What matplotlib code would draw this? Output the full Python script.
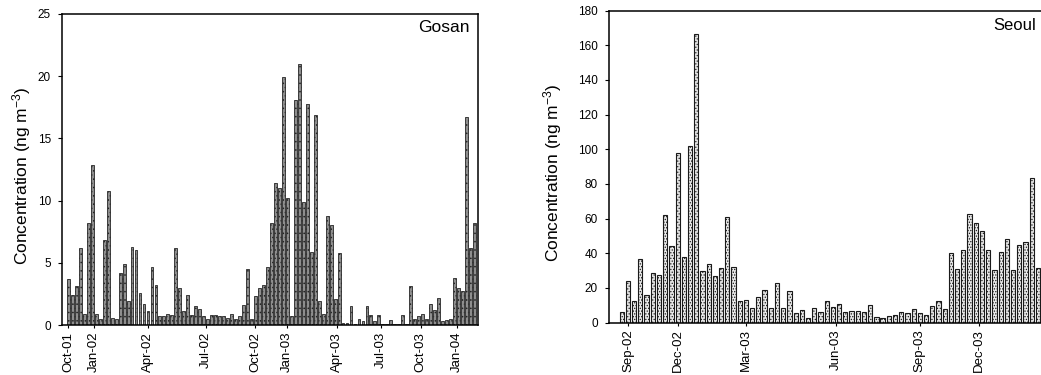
import numpy as np
import matplotlib
matplotlib.use("Agg")
import matplotlib.pyplot as plt

plt.rcParams['font.family'] = ['Liberation Sans', 'DejaVu Sans']
plt.rcParams['mathtext.default'] = 'regular'
plt.rcParams['hatch.linewidth'] = 0.6

# Gosan samples (ng m-3), in sampling order
gosan = [3.7, 2.4, 3.1, 6.2, 0.9, 8.2, 12.9, 0.9, 0.5, 6.8, 10.8, 0.6, 0.5,
         4.2, 4.9, 1.9, 6.3, 6.0, 2.6, 1.7, 1.1, 4.7, 3.2, 0.7, 0.7, 0.9,
         0.8, 6.2, 3.0, 1.1, 2.4, 0.8, 1.5, 1.3, 0.7, 0.5, 0.8, 0.8, 0.7,
         0.7, 0.6, 0.9, 0.5, 0.7, 1.6, 4.5, 0.5, 2.3, 3.0, 3.2, 4.7, 8.2,
         11.4, 11.0, 19.9, 10.2, 0.7, 18.1, 21.0, 9.9, 17.8, 5.9, 16.9, 1.9,
         0.9, 8.8, 8.0, 2.1, 5.8, 0.2, 0.2, 1.5, 0.1, 0.5, 0.3, 1.5, 0.8,
         0.3, 0.8, 0.1, 0.1, 0.4, 0.1, 0.1, 0.8, 0.1, 3.1, 0.5, 0.7, 0.9,
         0.5, 1.7, 1.2, 2.2, 0.3, 0.4, 0.5, 3.8, 3.0, 2.7, 16.7, 6.2, 8.2]
gosan_ticks = [0, 6.5, 20, 34.5, 47, 55, 67.5, 78.5, 88.5, 97.5]
gosan_labels = ['Oct-01', 'Jan-02', 'Apr-02', 'Jul-02', 'Oct-02', 'Jan-03',
                'Apr-03', 'Jul-03', 'Oct-03', 'Jan-04']

# Seoul samples (ng m-3)
seoul = [6, 23.7, 12.2, 36.7, 16.0, 28.6, 27.4, 62.0, 44, 98, 38, 102, 166.5,
         30, 34, 27, 31.5, 61, 32, 12.2, 13.1, 8.3, 15, 18.9, 8.3, 22.8, 8.3,
         18.3, 5.4, 7.3, 2.5, 8.3, 5.8, 12.5, 8.9, 10.8, 6.0, 6.8, 6.8, 6.0,
         10.2, 2.9, 2.5, 3.5, 4.4, 5.8, 5.4, 7.7, 5.4, 4.4, 9.7, 12.2, 7.7,
         40.2, 30.9, 41.7, 62.4, 57.5, 52.7, 42.1, 30.1, 40.7, 47.9, 30.1, 45,
         46.3, 83.6, 31.5]
seoul_ticks = [1, 9, 20, 34.5, 48, 57.5]
seoul_labels = ['Sep-02', 'Dec-02', 'Mar-03', 'Jun-03', 'Sep-03', 'Dec-03']

W, H = 1041, 375
fig = plt.figure(figsize=(W / 100, H / 100), dpi=100)
ax1 = fig.add_axes([62 / W, 1 - 325 / H, (478 - 62) / W, (325 - 14) / H])
ax2 = fig.add_axes([609 / W, 1 - 322.5 / H, (W - 609) / W, (322.5 - 10.5) / H])

x1 = np.arange(len(gosan))
ax1.bar(x1, gosan, width=0.72, color='#8e8e8e', edgecolor='#262626',
        hatch='....', linewidth=0.6)
ax1.set_xlim(-1.6, 102.9)
ax1.set_ylim(0, 25)
ax1.set_yticks(range(0, 26, 5))
ax1.set_xticks(gosan_ticks)
ax1.set_xticklabels(gosan_labels, rotation=90)
ax1.text(0.981, 0.982, 'Gosan', transform=ax1.transAxes, ha='right', va='top',
         fontsize=12.5)

x2 = np.arange(len(seoul))
ax2.bar(x2, seoul, width=0.68, color='#e8e8e8', edgecolor='#1a1a1a',
        hatch='......', linewidth=0.8)
ax2.set_xlim(-2.05, 67.5)
ax2.set_ylim(0, 180)
ax2.set_yticks(range(0, 181, 20))
ax2.set_xticks(seoul_ticks)
ax2.set_xticklabels(seoul_labels, rotation=90)
ax2.spines['right'].set_visible(False)
ax2.text(0.988, 0.976, 'Seoul', transform=ax2.transAxes, ha='right', va='top',
         fontsize=12)

for ax in (ax1, ax2):
    ax.set_ylabel('Concentration (ng m$^{-3}$)', fontsize=12.5)
    ax.tick_params(axis='y', labelsize=8.5, length=3, width=0.8, pad=5)
    ax.tick_params(axis='x', labelsize=9.5, length=2, width=0.8, pad=3)
    for s in ax.spines.values():
        s.set_linewidth(1.1)
ax1.yaxis.set_label_coords(-0.07, 0.48)
ax2.yaxis.set_label_coords(-0.105, 0.48)

fig.savefig('out.png', dpi=100)
